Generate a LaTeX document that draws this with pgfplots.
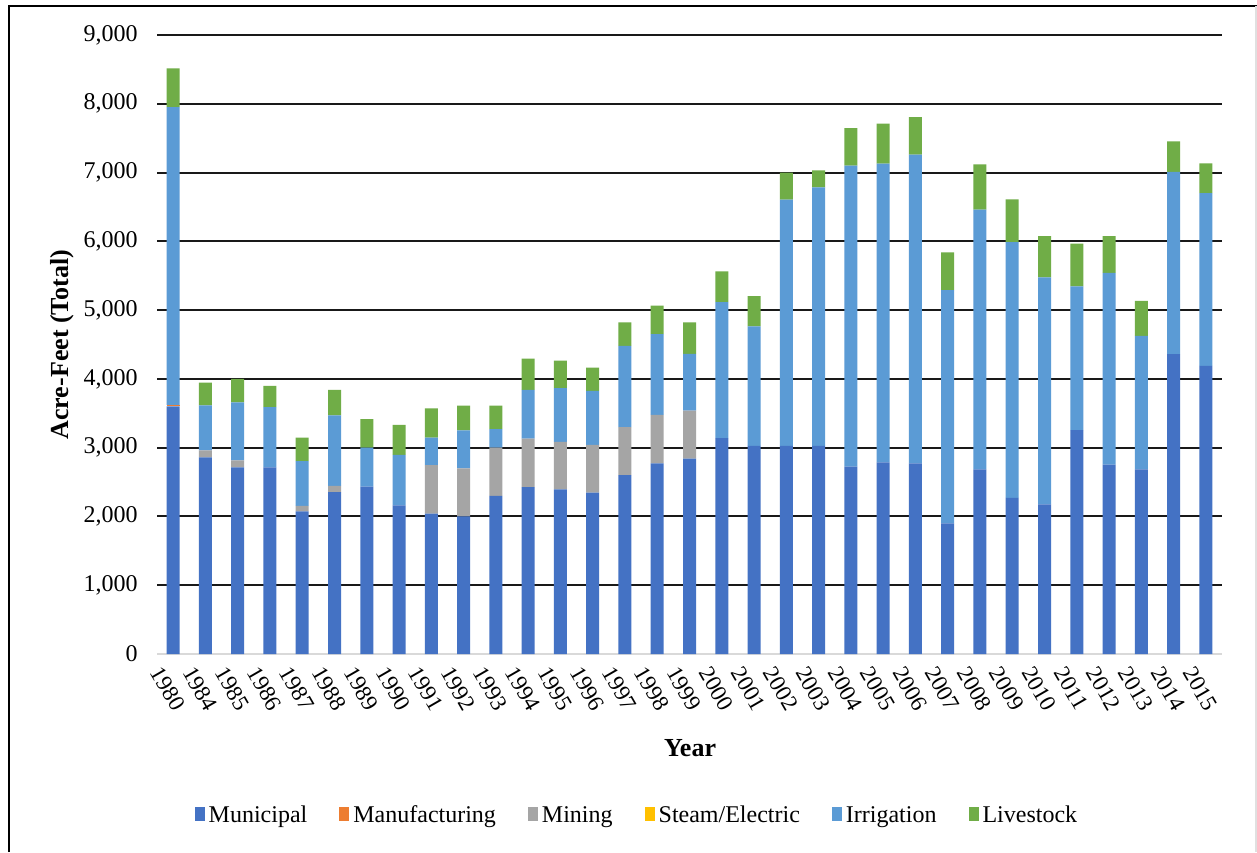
\documentclass[border=0pt]{standalone}
\usepackage{pgfplots}
\usepackage{pgfplotstable}
\pgfplotsset{compat=1.18}
\usepackage{fontspec}
\setmainfont{Liberation Serif}

\definecolor{cMun}{HTML}{4472C4}
\definecolor{cMan}{HTML}{ED7D31}
\definecolor{cMin}{HTML}{A5A5A5}
\definecolor{cSte}{HTML}{FFC000}
\definecolor{cIrr}{HTML}{5B9BD5}
\definecolor{cLiv}{HTML}{70AD47}

\pgfplotstableread{
x year mun man min ste irr liv
0 1980 3600 20 0 0 4330 565
1 1984 2860 0 100 0 655 330
2 1985 2715 0 100 0 845 340
3 1986 2715 0 0 0 875 310
4 1987 2075 0 80 0 650 340
5 1988 2355 0 90 0 1025 370
6 1989 2435 0 0 0 565 415
7 1990 2160 0 0 0 735 435
8 1991 2040 0 705 0 400 425
9 1992 2000 0 700 0 550 360
10 1993 2300 0 700 0 270 340
11 1994 2425 0 705 0 710 455
12 1995 2395 0 690 0 780 400
13 1996 2345 0 695 0 785 340
14 1997 2600 0 700 0 1180 340
15 1998 2770 0 705 0 1175 415
16 1999 2840 0 700 0 825 455
17 2000 3140 0 0 0 1975 450
18 2001 3025 0 0 0 1740 440
19 2002 3025 0 0 0 3580 395
20 2003 3025 0 0 0 3760 245
21 2004 2725 0 0 0 4375 545
22 2005 2785 0 0 0 4345 580
23 2006 2770 0 0 0 4490 545
24 2007 1900 0 0 0 3390 550
25 2008 2685 0 0 0 3775 660
26 2009 2270 0 0 0 3720 620
27 2010 2175 0 0 0 3300 600
28 2011 3255 0 0 0 2090 620
29 2012 2755 0 0 0 2785 535
30 2013 2685 0 0 0 1940 510
31 2014 4360 0 0 0 2650 445
32 2015 4190 0 0 0 2510 435
}\data

\begin{document}
\begin{tikzpicture}
\useasboundingbox (0,0) rectangle (628.5pt,426pt);
\fill[white] (0,0) rectangle (628.5pt,426pt);
\draw[black, line width=1.2pt] (4.5pt,0) -- (4.5pt,423pt) -- (628.5pt,423pt);
\draw[black!12, line width=1pt] (627.8pt,0) -- (627.8pt,423pt);
\begin{axis}[
  at={(78.5pt,99pt)}, anchor=south west,
  scale only axis, width=532.5pt, height=309.5pt,
  ybar stacked, bar width=6.5pt,
  xmin=-0.5, xmax=32.5, ymin=0, ymax=9000,
  axis lines*=left,
  y axis line style={draw=none},
  x axis line style={draw=black!15, line width=1pt},
  major tick length=0pt,
  xtick={0,...,32},
  xticklabels from table={\data}{year},
  xticklabel style={rotate=-60, anchor=west, inner sep=0pt, xshift=2pt, yshift=-11pt, font=\fontsize{11.5}{13}\selectfont},
  ytick={1000,2000,...,9000},
  extra y ticks={0}, extra y tick style={grid=none},
  ymajorgrids,
  major grid style={black!90, line width=1pt},
  yticklabel style={inner sep=0pt, xshift=-9.5pt, font=\fontsize{12}{14}\selectfont},
  scaled y ticks=false,
  /pgf/number format/.cd, 1000 sep={,}, assume math mode=true, /pgfplots/.cd,
  ylabel={\bfseries Acre-Feet (Total)},
  ylabel style={at={(axis description cs:-0.0892,0.5)}, anchor=center, font=\fontsize{13}{15}\selectfont},
  xlabel={\bfseries Year},
  xlabel style={at={(axis description cs:0.5005,-0.152)}, anchor=center, font=\fontsize{13}{15}\selectfont},
  legend columns=6,
  legend style={at={(axis description cs:0.4516,-0.2617)}, anchor=center, draw=none, fill=none,
    font=\fontsize{12}{14}\selectfont,
    /tikz/every even column/.append style={column sep=14pt}},
  legend cell align=left,
  legend image code/.code={\fill[#1] (0pt,-2.5pt) rectangle (5pt,4.5pt);},
]
\addplot[fill=cMun, draw=none] table[x=x, y=mun] {\data};
\addplot[fill=cMan, draw=none] table[x=x, y=man] {\data};
\addplot[fill=cMin, draw=none] table[x=x, y=min] {\data};
\addplot[fill=cSte, draw=none] table[x=x, y=ste] {\data};
\addplot[fill=cIrr, draw=none] table[x=x, y=irr] {\data};
\addplot[fill=cLiv, draw=none] table[x=x, y=liv] {\data};
\legend{Municipal, Manufacturing, Mining, Steam/Electric, Irrigation, Livestock}
\end{axis}
\end{tikzpicture}
\end{document}
